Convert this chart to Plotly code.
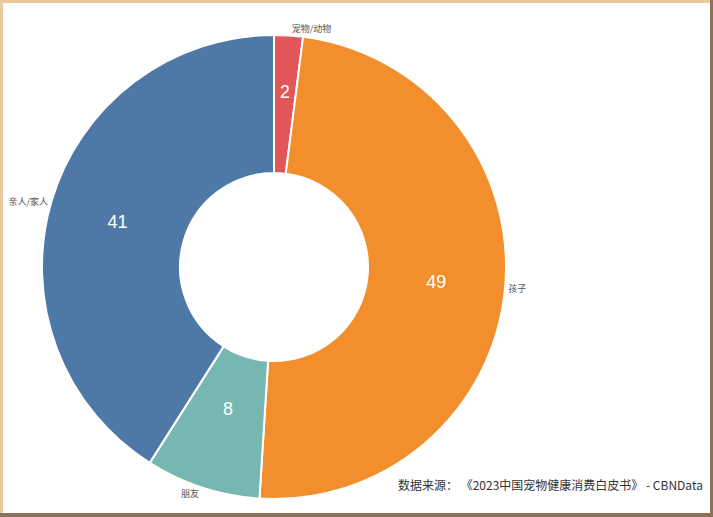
import plotly.graph_objects as go

labels = ["宠物/动物", "孩子", "朋友", "亲人/家人"]
values = [2, 49, 8, 41]
colors = ["#E15759", "#F28E2B", "#76B7B2", "#4E79A7"]
source_text = "数据来源： 《2023中国宠物健康消费白皮书》 - CBNData"

W, H = 713, 517
cx, cy, r, r_in = 274, 267, 232, 94


def domain(radius):
    return dict(x=[(cx - radius) / W, (cx + radius) / W],
                y=[(H - cy - radius) / H, (H - cy + radius) / H])


font_family = "Liberation Sans, Arial, Noto Sans CJK SC, sans-serif"
big_text = [str(v) if v >= 20 else "" for v in values]
small_text = [str(v) if v < 20 else "" for v in values]

fig = go.Figure()
fig.add_trace(go.Pie(
    labels=labels, values=values, sort=False, direction="clockwise", rotation=0,
    hole=r_in / r, domain=domain(r),
    marker=dict(colors=colors, line=dict(color="white", width=2)),
    text=big_text, texttemplate="%{text}", textposition="inside",
    insidetextorientation="horizontal",
    textfont=dict(color="white", size=18, family=font_family),
    showlegend=False,
))
r_small = 186
fig.add_trace(go.Pie(
    labels=labels, values=values, sort=False, direction="clockwise", rotation=0,
    hole=r_in / r_small, domain=domain(r_small),
    marker=dict(colors=["rgba(0,0,0,0)"] * 4, line=dict(width=0)),
    text=small_text, texttemplate="%{text}", textposition="inside",
    insidetextorientation="horizontal",
    textfont=dict(color="white", size=18, family=font_family),
    showlegend=False, hoverinfo="skip",
))
fig.add_trace(go.Pie(
    labels=labels, values=values, sort=False, direction="clockwise", rotation=0,
    hole=r_in / r, domain=domain(r),
    marker=dict(colors=["rgba(0,0,0,0)"] * 4, line=dict(width=0)),
    textinfo="label", textposition="outside",
    outsidetextfont=dict(color="#555555", size=9, family="Noto Sans CJK SC, sans-serif"),
    showlegend=False, hoverinfo="skip",
))

fig.add_annotation(
    text=source_text, xref="paper", yref="paper", x=705 / W, y=(H - 484) / H,
    xanchor="right", yanchor="middle", showarrow=False,
    font=dict(size=12, color="#333333", family="Noto Sans CJK SC, sans-serif"),
)

# frame
fig.add_shape(type="rect", xref="paper", yref="paper", x0=0, x1=1, y0=1 - 3 / H, y1=1,
              fillcolor="#E8C9A0", line=dict(width=0))
fig.add_shape(type="rect", xref="paper", yref="paper", x0=0, x1=3 / W, y0=0, y1=1,
              fillcolor="#E8C9A0", line=dict(width=0))
fig.add_shape(type="rect", xref="paper", yref="paper", x0=1 - 3 / W, x1=1, y0=0, y1=1,
              fillcolor="#8C7258", line=dict(width=0))
fig.add_shape(type="rect", xref="paper", yref="paper", x0=0, x1=1, y0=0, y1=4 / H,
              fillcolor="#8C7258", line=dict(width=0))

fig.update_layout(
    width=W, height=H, margin=dict(l=0, r=0, t=0, b=0),
    paper_bgcolor="white", plot_bgcolor="white",
)
fig.write_html("out.html", config={"displayModeBar": False},
               post_script="document.body.style.margin='0';document.body.style.overflow='hidden';")
